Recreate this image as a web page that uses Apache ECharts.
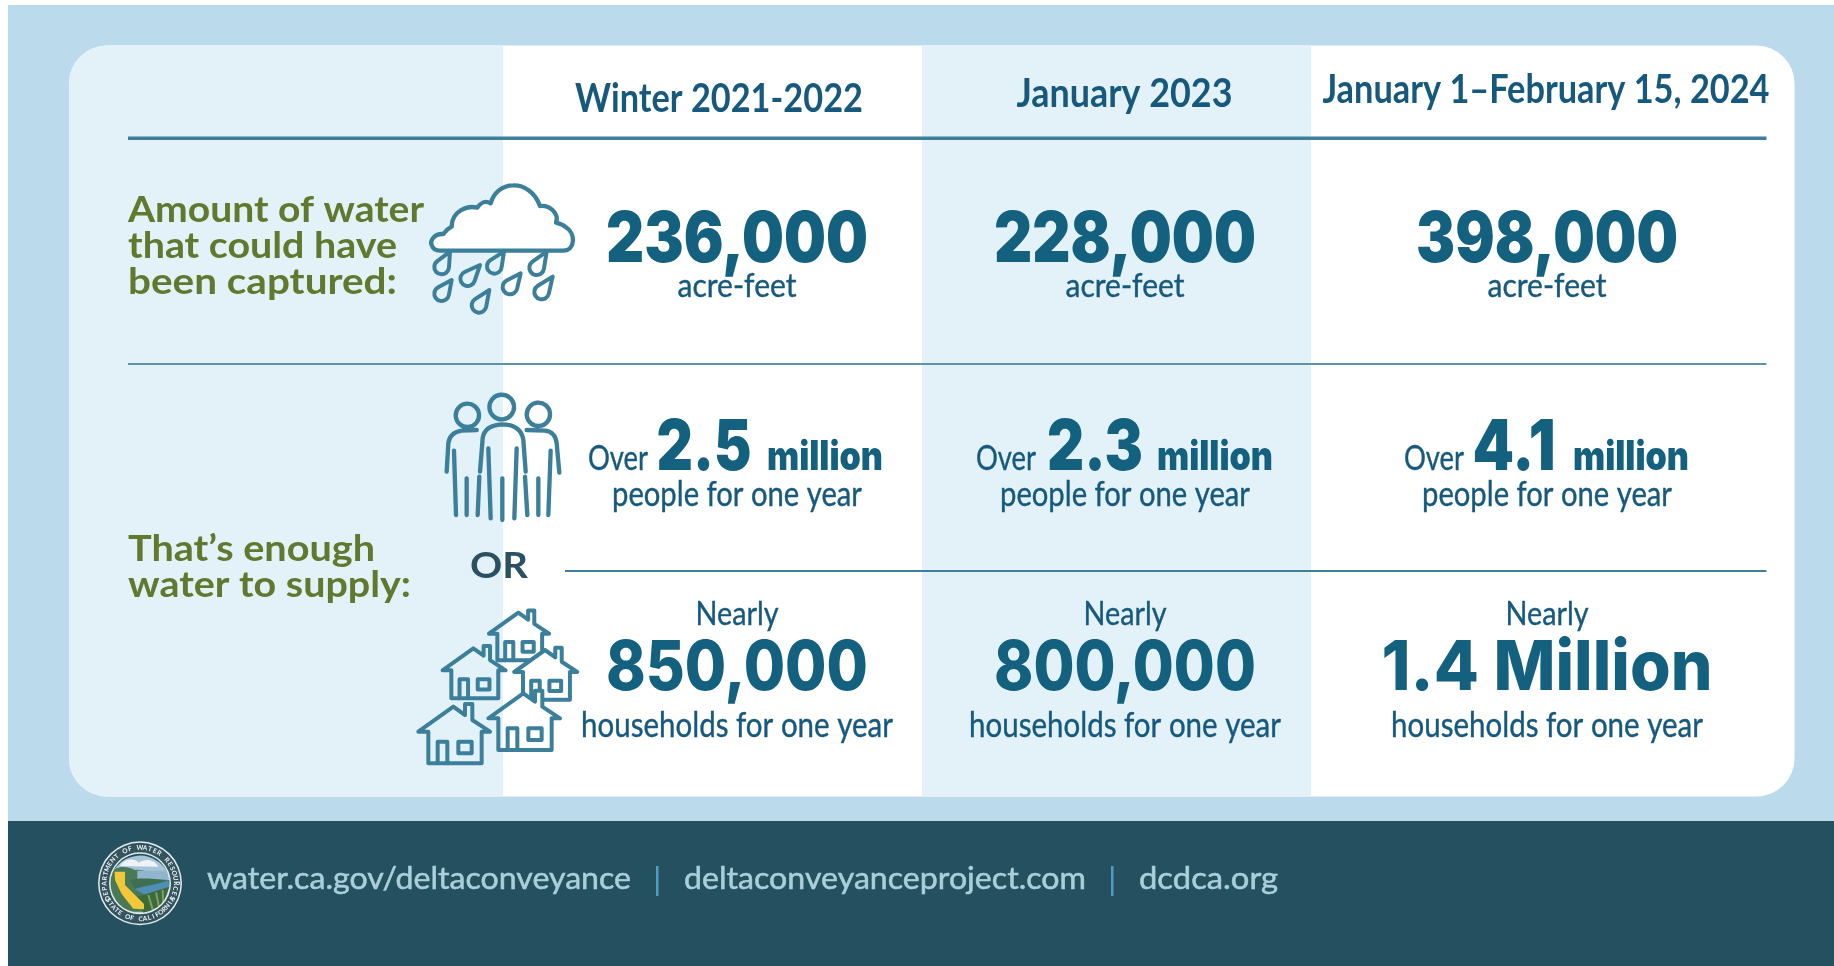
<!DOCTYPE html>
<html>
<head>
<meta charset="utf-8">
<title>Delta Conveyance water capture</title>
<script src="https://cdn.jsdelivr.net/npm/echarts@6/dist/echarts.min.js"></script>
<style>
html, body { margin: 0; padding: 0; background: #fff; }
#main { width: 1834px; height: 966px; }
</style>
</head>
<body>
<div id="main"></div>
<script>
// values
var periods = ['Winter 2021-2022', 'January 2023', 'January 1–February 15, 2024'];
var acreFeet = ['236,000', '228,000', '398,000'];
var peopleMillions = ['2.5', '2.3', '4.1'];
var households = ['850,000', '800,000', '1.4 Million'];
var rowLabels = [
    ['Amount of water', 'that could have', 'been captured:'],
    ['That’s enough', 'water to supply:']
];
var footerLinks = ['water.ca.gov/deltaconveyance', 'deltaconveyanceproject.com', 'dcdca.org'];

var DARK = '#17597c', BIG = '#14607f', LINE = '#3f7f9b', ICON = '#3b7f9b', GREEN = '#61792f';
var PALE = '#e3f2f9', SKY = '#bbdbed', FOOT = '#25505f', FOOT_TEXT = '#a9cfdc';
var SANS = 'Lato';

var measure = document.createElement('canvas').getContext('2d');
var g = [];
var shapeCount = 0;

// text placed by its baseline, squeezed to a given width when one is passed
function text(str, x, baseline, font, fill, align, width, thick) {
    measure.font = font;
    measure.textBaseline = 'middle';
    var m = measure.measureText('H');
    var scale = width ? width / measure.measureText(str).width : 1;
    g.push({
        type: 'text', silent: true, x: x, y: baseline - m.actualBoundingBoxDescent, scaleX: scale,
        style: {
            text: str, font: font, fill: fill, textAlign: align || 'center', textVerticalAlign: 'middle',
            stroke: thick ? fill : null, lineWidth: thick || 0
        }
    });
}
function rect(x, y, w, h, fill, r) {
    g.push({ type: 'rect', silent: true, shape: { x: x, y: y, width: w, height: h, r: r || 0 }, style: { fill: fill } });
}
// icons are traced in a 3x crop, so they are scaled back down by a third
function tracePath(d, ox, oy, style) {
    var name = 'trace' + (shapeCount++);
    echarts.graphic.registerShape(name, echarts.graphic.extendPath(d, {}));
    g.push({ type: name, silent: true, x: ox, y: oy, scaleX: 1 / 3, scaleY: 1 / 3, style: style });
}
function stroke(w, fill) {
    return { fill: fill || 'none', stroke: ICON, lineWidth: w, lineCap: 'round', lineJoin: 'round' };
}

// page
rect(8, 5, 1826, 816, SKY);
rect(8, 821, 1826, 145, FOOT);
rect(69, 45.5, 1725.5, 751, '#fff', 38);
rect(69, 45.5, 434, 751, PALE, [38, 0, 0, 38]);
rect(922, 45.5, 389, 751, PALE);

// rules
rect(128, 136.5, 1638.5, 3.5, LINE);
rect(128, 363, 1638.5, 2, '#5d93ab');
rect(565, 570, 1201.5, 2, LINE);

// columns
var colX = [737, 1125, 1547];
var headX = [719, 1124.5, 1546];
var headBase = [111.5, 107, 103];
var headW = [288, 216, 447];
var overX = [[-149, -33, 30], [-149, -30, 32], [-143, -33, 26]];
var numW = [95, 96, 83];
var bigW = [262, 262, 331];

for (var i = 0; i < 3; i++) {
    var cx = colX[i];
    text(periods[i], headX[i], headBase[i], '700 40px ' + SANS, DARK, 'center', headW[i]);

    text(acreFeet[i], cx, 262, '900 70px Inter', BIG, 'center', 262);
    text('acre-feet', cx, 297, '400 33px ' + SANS, DARK, 'center', 119, 0.4);

    text('Over', cx + overX[i][0], 470, '400 35px ' + SANS, DARK, 'left', 60, 0.4);
    text(peopleMillions[i], cx + overX[i][1], 470, '900 70px Inter', BIG, 'center', numW[i]);
    text('million', cx + overX[i][2], 470, '900 41px Inter', BIG, 'left', 116);
    text('people for one year', cx, 506, '400 35px ' + SANS, DARK, 'center', 250, 0.4);

    text('Nearly', cx, 625, '400 33px ' + SANS, DARK, 'center', 83, 0.4);
    text(households[i], cx, 690, '800 69px Inter', BIG, 'center', bigW[i]);
    text('households for one year', cx, 737, '400 35px ' + SANS, DARK, 'center', 312, 0.4);
}

// left labels
var labelW = [[296, 269, 269], [247, 283]];
var labelBase = [[222, 257.5, 294], [561, 597]];
rowLabels.forEach(function (lines, r) {
    lines.forEach(function (line, k) {
        text(line, 128, labelBase[r][k], '700 36px ' + SANS, GREEN, 'left', labelW[r][k]);
    });
});
text('OR', 499, 578, '700 37px ' + SANS, '#2a5062', 'center', 58);

// cloud and drops
tracePath('M120 242 L490 242 C525 242 530 190 495 170 C490 165 475 160 468 158 C478 130 450 105 420 108 ' +
    'C405 65 370 45 340 46 C305 46 280 70 272 100 C255 90 240 100 232 113 C200 105 155 125 155 170 ' +
    'C145 175 135 185 130 192 C100 190 90 215 95 225 C98 235 105 242 120 242 Z', 400, 170, stroke(13, '#fff'));
function drop(tx, ty, cx, cy, r) {
    var dx = tx - cx, dy = ty - cy, d = Math.sqrt(dx * dx + dy * dy);
    var a = Math.atan2(dy, dx), b = Math.acos(r / d);
    var p1 = [cx + r * Math.cos(a + b), cy + r * Math.sin(a + b)];
    var p2 = [cx + r * Math.cos(a - b), cy + r * Math.sin(a - b)];
    return 'M' + tx + ' ' + ty + ' L' + p1[0] + ' ' + p1[1] + ' A' + r + ' ' + r + ' 0 1 1 ' + p2[0] + ' ' + p2[1] + ' Z';
}
[[150, 245, 125, 291], [240, 285, 203, 326], [312, 245, 283, 289], [440, 245, 410, 293],
 [155, 330, 125, 371], [268, 360, 237, 406], [362, 310, 330, 351], [458, 320, 425, 366]].forEach(function (p) {
    tracePath(drop(p[0], p[1], p[2], p[3], 22), 400, 170, stroke(12));
});

// people
var people = 'M147 103 A35 35 0 1 1 146.9 102 Z M252 78 A37 37 0 1 1 251.9 77 Z M360 100 A35 35 0 1 1 359.9 99 Z ' +
    'M50 275 L55 190 C58 165 75 155 95 152 L140 150 M72 212 L78 405 M110 295 L110 405 M148 290 L143 405 ' +
    'M150 275 L158 175 C162 145 185 135 215 133 C250 133 275 145 280 180 L287 275 ' +
    'M175 205 L182 415 M217 295 L217 420 M260 205 L253 415 ' +
    'M290 150 L345 152 C370 155 378 170 380 190 L388 278 M362 212 L355 405 M325 295 L325 405 M285 290 L292 405';
tracePath(people, 430, 380, stroke(13));

// houses, back to front; the fill follows the colour change behind them
function house(ax, ay, s) {
    function p(x, y) { return (ax + x * s) + ' ' + (ay + y * s); }
    return 'M' + p(-105, 75) + ' L' + p(0, 0) + ' L' + p(35, 25) + ' L' + p(35, -8) + ' L' + p(57, -8) + ' L' + p(57, 40) +
        ' L' + p(110, 75) + ' L' + p(85, 75) + ' L' + p(85, 170) + ' L' + p(-75, 170) + ' L' + p(-75, 75) + ' Z';
}
function houseInner(ax, ay, s) {
    function p(x, y) { return (ax + x * s) + ' ' + (ay + y * s); }
    return 'M' + p(-47, 170) + ' L' + p(-47, 105) + ' L' + p(-18, 105) + ' L' + p(-18, 170) +
        ' M' + p(15, 105) + ' L' + p(55, 105) + ' L' + p(55, 140) + ' L' + p(15, 140) + ' Z';
}
var houseFill = {
    type: 'linear', x: 279, y: 0, x2: 280, y2: 0, global: true,
    colorStops: [{ offset: 0, color: PALE }, { offset: 1, color: '#fff' }]
};
[[325, 38, 0.84], [190, 145, 0.88], [405, 150, 0.88], [130, 320, 1], [340, 280, 1]].forEach(function (h) {
    tracePath(house(h[0], h[1], h[2]), 410, 600, stroke(12, houseFill));
    tracePath(houseInner(h[0], h[1], h[2]), 410, 600, stroke(12));
});

// footer links
var linkX = [207, 684, 1139];
var linkW = [424, 402, 139];
footerLinks.forEach(function (link, i) {
    text(link, linkX[i], 889, '400 30px ' + SANS, FOOT_TEXT, 'left', linkW[i], 0.5);
});
rect(656, 866, 2.5, 30, '#4f9dc4');
rect(1111, 866, 2.5, 30, '#4f9dc4');

// seal
var sx = 80, sy = 830;
function seal(d, fill) { tracePath(d, sx, sy, { fill: fill }); }
seal('M272 160 A92 92 0 1 1 271.9 159 Z', '#a9c4d8');
seal('M120 108 C132 85 165 84 176 98 C195 84 226 88 235 110 Z', '#edf3f6');
seal('M90 130 C110 105 140 108 165 120 C190 116 200 125 215 145 L215 245 L130 245 L90 190 Z', '#4a7a55');
seal('M172 122 L265 122 L265 150 L172 150 Z', '#8fb6ca');
seal('M150 150 C190 140 240 150 270 150 L270 175 L165 175 Z', '#3f6f52');
seal('M165 178 C190 166 230 166 265 150 L268 172 L200 197 Z', '#4d8fb5');
seal('M172 200 L268 170 L250 225 L190 250 Z', '#3d6a3c');
tracePath('M205 195 L220 245 M228 187 L238 235 M248 180 L250 220', sx, sy, { fill: 'none', stroke: '#7f9f62', lineWidth: 6 });
seal('M104 125 L135 125 L135 165 L192 222 L192 238 L160 236 L125 192 L105 150 Z', '#f3c838');
g.push({ type: 'ring', silent: true, shape: { cx: 140, cy: 883.3, r: 42, r0: 29.5 }, style: { fill: '#e4eaea' } });
g.push({ type: 'ring', silent: true, shape: { cx: 140, cy: 883.3, r: 40.5, r0: 31 }, style: { fill: '#33545f' } });
function arcText(str, from, step, r, flip) {
    for (var i = 0; i < str.length; i++) {
        var a = (from + i * step) * Math.PI / 180;
        g.push({
            type: 'text', silent: true, x: 140 + r * Math.sin(a), y: 883.3 - r * Math.cos(a), rotation: flip ? Math.PI - a : -a,
            style: { text: str[i], font: '700 6.5px ' + SANS, fill: '#f1f5f5', textAlign: 'center', textVerticalAlign: 'middle' }
        });
    }
}
arcText('DEPARTMENT OF WATER RESOURCES', -115, 8.2, 35.7, false);
arcText('STATE OF CALIFORNIA', 242, -7, 35.7, true);

var myChart = echarts.init(document.getElementById('main'), null, { renderer: 'canvas' });
var option = {
    animation: false,
    graphic: { elements: g }
};
myChart.setOption(option);
</script>
</body>
</html>
